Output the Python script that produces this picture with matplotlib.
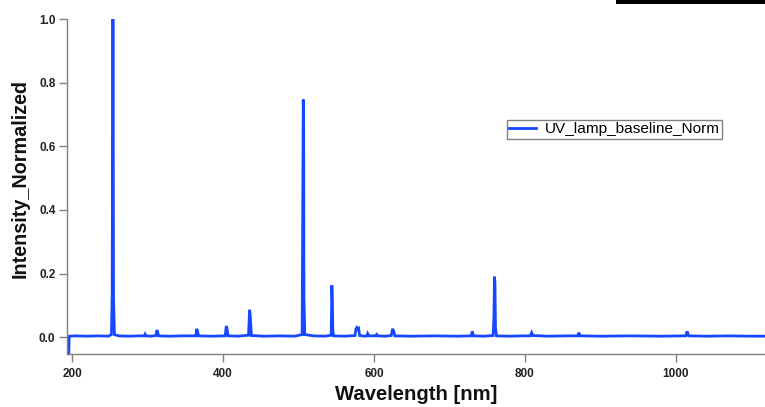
import matplotlib
matplotlib.use("Agg")
import matplotlib.pyplot as plt
from matplotlib.patches import Rectangle

# ---- data ----
wavelength = [
    195.5, 196.2, 205, 220, 235, 248, 252.2, 253.2, 253.8, 254.2, 254.6, 255.0, 256.2,
    262, 275, 290, 295.8, 296.8, 297.8, 305, 311.2, 312.4, 313.3, 314.6, 330, 345,
    363.8, 365.2, 366.2, 367.4, 385, 402.8, 404.4, 405.3, 406.6, 420, 433.8, 435.2,
    436.0, 437.6, 455, 475, 495, 504.8, 505.8, 506.3, 506.8, 507.2, 508.3, 520, 535,
    543.3, 544.2, 544.9, 545.5, 546.6, 560, 574.8, 576.0, 577.2, 578.4, 579.6, 581.0,
    588, 590.6, 591.6, 593, 602.5, 603.6, 604.8, 615, 622.8, 624.6, 626.0, 627.6,
    650, 680, 710, 728.6, 730.2, 731.8, 745, 757.8, 758.8, 759.6, 760.2, 760.9,
    762.2, 780, 795, 807.0, 808.8, 810.4, 830, 855, 869.8, 871.4, 873.0, 900, 940,
    980, 1012.8, 1014.8, 1016.8, 1040, 1070, 1100, 1125,
]
intensity = [
    -0.08, 0.003, 0.004, 0.003, 0.004, 0.003, 0.008, 0.13, 0.73, 1.0, 0.72, 0.12, 0.008,
    0.004, 0.003, 0.004, 0.004, 0.009, 0.004, 0.003, 0.005, 0.022, 0.018, 0.004, 0.003, 0.004,
    0.004, 0.026, 0.020, 0.004, 0.003, 0.004, 0.035, 0.028, 0.004, 0.003, 0.006, 0.086,
    0.070, 0.005, 0.003, 0.004, 0.003, 0.008, 0.49, 0.747, 0.68, 0.126, 0.008, 0.004, 0.003,
    0.006, 0.163, 0.11, 0.02, 0.004, 0.003, 0.005, 0.025, 0.030, 0.026, 0.028, 0.005,
    0.003, 0.004, 0.011, 0.004, 0.004, 0.008, 0.004, 0.003, 0.005, 0.026, 0.020, 0.004,
    0.003, 0.004, 0.003, 0.004, 0.018, 0.004, 0.003, 0.005, 0.06, 0.19, 0.17, 0.03,
    0.004, 0.003, 0.004, 0.004, 0.014, 0.005, 0.003, 0.004, 0.004, 0.014, 0.004, 0.003, 0.004,
    0.003, 0.004, 0.018, 0.004, 0.003, 0.004, 0.003, 0.003,
]
series_label = "UV_lamp_baseline_Norm"
x_ticks = [200, 400, 600, 800, 1000]
y_ticks = [0.0, 0.2, 0.4, 0.6, 0.8, 1.0]

# ---- figure ----
W, H = 765, 407
fig = plt.figure(figsize=(W / 100, H / 100), dpi=100)
fig.patch.set_facecolor("white")

ax_left, ax_right, ax_top, ax_bottom = 66.5, 765, 19, 354
ax = fig.add_axes([ax_left / W, 1 - ax_bottom / H, (ax_right - ax_left) / W, (ax_bottom - ax_top) / H])

ax.plot(wavelength, intensity, color="#1747ff", lw=2.0, label=series_label, solid_joinstyle="miter")

ax.set_xlim(192.7, 1117.9)
ax.set_ylim(-0.053, 1.0)
ax.set_xticks(x_ticks)
ax.set_yticks(y_ticks)
ax.set_yticklabels([f"{v:.1f}" for v in y_ticks])

for s in ["top", "right"]:
    ax.spines[s].set_visible(False)
for s in ["left", "bottom"]:
    ax.spines[s].set_color("#808080")
    ax.spines[s].set_linewidth(1.0)

ax.tick_params(axis="both", direction="out", color="#808080", width=1.0, length=6)
ax.tick_params(axis="y", pad=2)
ax.tick_params(axis="x", pad=4)
for lab in ax.get_xticklabels() + ax.get_yticklabels():
    lab.set_fontfamily("Liberation Sans")
    lab.set_fontweight("bold")
    lab.set_fontsize(8.5)
    lab.set_color("#222222")

fig.text(416 / W, 1 - 395 / H, "Wavelength [nm]", ha="center", va="center",
         fontfamily="Liberation Sans", fontweight="bold", fontsize=14.6, color="#111111")
fig.text(20 / W, 1 - 179 / H, "Intensity_Normalized", ha="center", va="center", rotation=90,
         fontfamily="Liberation Sans", fontweight="bold", fontsize=14.2, color="#111111")

leg = fig.legend(loc="upper left", bbox_to_anchor=(507 / W, 1 - 120 / H),
                 bbox_transform=fig.transFigure, frameon=True, fancybox=False,
                 edgecolor="#808080", framealpha=1, borderpad=0.15, borderaxespad=0,
                 handlelength=1.75, handletextpad=0.55,
                 prop=dict(family="Liberation Sans", size=11.1))
leg.get_frame().set_linewidth(1.0)

# screenshot artifact bar at the top right
fig.patches.append(Rectangle((616 / W, 1 - 4 / H), (W - 616) / W, 4 / H,
                             transform=fig.transFigure, facecolor="black", edgecolor="none"))

fig.savefig("out.png", dpi=100)
